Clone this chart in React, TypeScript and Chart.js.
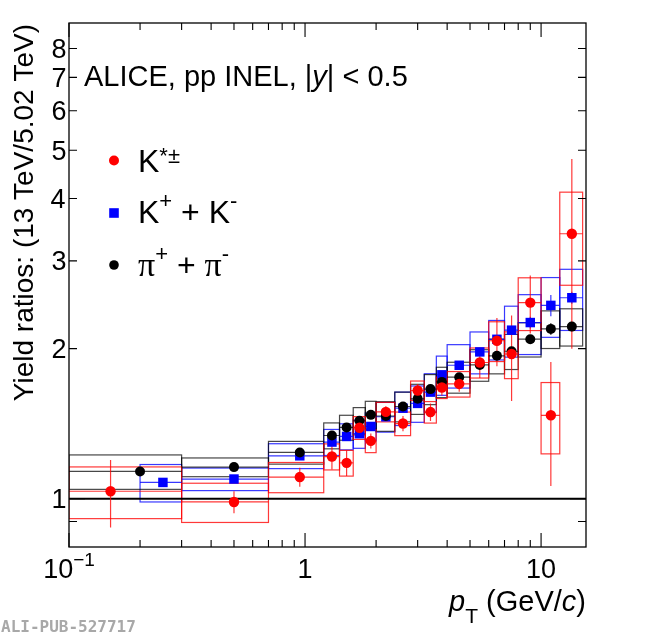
import { useEffect, useRef } from "react"
import { Chart, registerables } from "chart.js"

Chart.register(...registerables)

// K*± (red circles)
const kstarPt = [0.15, 0.5, 0.95, 1.3, 1.5, 1.7, 1.9, 2.2, 2.6, 3.0, 3.4, 3.8, 4.5, 5.5, 6.5, 7.5, 9, 11, 13.5]
const kstarLo = [0, 0.3, 0.7, 1.2, 1.4, 1.6, 1.8, 2.0, 2.4, 2.8, 3.2, 3.6, 4.0, 5, 6, 7, 8, 10, 12]
const kstarHi = [0.3, 0.7, 1.2, 1.4, 1.6, 1.8, 2.0, 2.4, 2.8, 3.2, 3.6, 4.0, 5, 6, 7, 8, 10, 12, 15]
const kstarRatio = [1.035, 0.985, 1.105, 1.215, 1.18, 1.388, 1.306, 1.493, 1.415, 1.648, 1.492, 1.671, 1.699, 1.876, 2.074, 1.951, 2.474, 1.47, 3.4]
const kstarStat = [0.16, 0.05, 0.048, 0.07, 0.07, 0.045, 0.045, 0.04, 0.05, 0.05, 0.06, 0.06, 0.06, 0.13, 0.23, 0.38, 0.33, 0.41, 1.4]
const kstarSys = [0.123, 0.089, 0.077, 0.073, 0.07, 0.073, 0.069, 0.067, 0.077, 0.074, 0.074, 0.083, 0.1, 0.13, 0.19, 0.21, 0.3, 0.24, 0.72]

// K+ + K- (blue squares)
const kaonPt = [0.25, 0.5, 0.95, 1.3, 1.5, 1.7, 1.9, 2.2, 2.6, 3.0, 3.4, 3.8, 4.5, 5.5, 6.5, 7.5, 9, 11, 13.5]
const kaonLo = [0.2, 0.3, 0.7, 1.2, 1.4, 1.6, 1.8, 2.0, 2.4, 2.8, 3.2, 3.6, 4.0, 5, 6, 7, 8, 10, 12]
const kaonHi = [0.3, 0.7, 1.2, 1.4, 1.6, 1.8, 2.0, 2.4, 2.8, 3.2, 3.6, 4.0, 5, 6, 7, 8, 10, 12, 15]
const kaonRatio = [1.078, 1.095, 1.219, 1.299, 1.333, 1.35, 1.396, 1.46, 1.519, 1.553, 1.636, 1.772, 1.852, 1.97, 2.088, 2.178, 2.256, 2.442, 2.53]
const kaonStat = [0.01, 0.01, 0.01, 0.01, 0.01, 0.01, 0.01, 0.01, 0.015, 0.015, 0.015, 0.02, 0.02, 0.03, 0.04, 0.04, 0.06, 0.12, 0.07]
const kaonSys = [0.093, 0.057, 0.07, 0.078, 0.08, 0.088, 0.09, 0.1, 0.117, 0.13, 0.145, 0.16, 0.185, 0.19, 0.19, 0.255, 0.31, 0.335, 0.355]

// pi+ + pi- (black circles)
const pionPt = [0.2, 0.5, 0.95, 1.3, 1.5, 1.7, 1.9, 2.2, 2.6, 3.0, 3.4, 3.8, 4.5, 5.5, 6.5, 7.5, 9, 11, 13.5]
const pionLo = [0.1, 0.3, 0.7, 1.2, 1.4, 1.6, 1.8, 2.0, 2.4, 2.8, 3.2, 3.6, 4.0, 5, 6, 7, 8, 10, 12]
const pionHi = [0.3, 0.7, 1.2, 1.4, 1.6, 1.8, 2.0, 2.4, 2.8, 3.2, 3.6, 4.0, 5, 6, 7, 8, 10, 12, 15]
const pionRatio = [1.134, 1.157, 1.238, 1.339, 1.39, 1.433, 1.473, 1.465, 1.531, 1.586, 1.659, 1.715, 1.753, 1.855, 1.935, 1.976, 2.089, 2.191, 2.214]
const pionStat = [0.005, 0.005, 0.005, 0.005, 0.005, 0.005, 0.005, 0.005, 0.008, 0.008, 0.01, 0.01, 0.01, 0.015, 0.02, 0.02, 0.03, 0.06, 0.05]
const pionSys = [0.09, 0.05, 0.065, 0.08, 0.08, 0.09, 0.095, 0.1, 0.105, 0.11, 0.115, 0.12, 0.125, 0.135, 0.155, 0.16, 0.165, 0.19, 0.19]

// axes
const xRange = [0.1, 15.5]
const yRange = [0.8, 9]
const xTickMajor = [0.1, 1, 10]
const xTickMinor = [0.2, 0.3, 0.4, 0.5, 0.6, 0.7, 0.8, 0.9, 2, 3, 4, 5, 6, 7, 8, 9]
const yTickLabels = [1, 2, 3, 4, 5, 6, 7, 8]
const yTickMinor = [0.9]

const SANS = '"Liberation Sans", Arial, Helvetica, sans-serif'
const SERIF = '"Liberation Serif", "Times New Roman", serif'

type Run = { t: string; size: number; italic?: boolean; dy?: number; serif?: boolean }

function fontOf(r: Run) {
  return `${r.italic ? "italic " : ""}${r.size}px ${r.serif ? SERIF : SANS}`
}

function runsWidth(ctx: CanvasRenderingContext2D, runs: Run[]) {
  let w = 0
  for (const r of runs) {
    ctx.font = fontOf(r)
    w += ctx.measureText(r.t).width
  }
  return w
}

function drawRuns(ctx: CanvasRenderingContext2D, x: number, y: number, runs: Run[]) {
  let cx = x
  for (const r of runs) {
    ctx.font = fontOf(r)
    ctx.fillText(r.t, cx, y + (r.dy || 0))
    cx += ctx.measureText(r.t).width
  }
}

// drawn bottom to top: kaons, pions, K*
const series = [
  { pt: kaonPt, lo: kaonLo, hi: kaonHi, val: kaonRatio, stat: kaonStat, sys: kaonSys, line: "rgba(0,0,255,0.78)" },
  { pt: pionPt, lo: pionLo, hi: pionHi, val: pionRatio, stat: pionStat, sys: pionSys, line: "rgba(0,0,0,0.72)" },
  { pt: kstarPt, lo: kstarLo, hi: kstarHi, val: kstarRatio, stat: kstarStat, sys: kstarSys, line: "rgba(255,0,0,0.78)" },
]

const overlay = {
  id: "overlay",
  beforeDatasetsDraw(chart: any) {
    const { ctx, chartArea: a } = chart
    const xs = chart.scales.x
    const ys = chart.scales.y
    ctx.save()
    ctx.beginPath()
    ctx.rect(a.left, a.top, a.right - a.left, a.bottom - a.top)
    ctx.clip()

    // systematic boxes
    ctx.lineWidth = 1.2
    for (const s of series) {
      ctx.strokeStyle = s.line
      s.val.forEach((v, i) => {
        const x0 = xs.getPixelForValue(Math.max(s.lo[i], xs.min))
        const x1 = xs.getPixelForValue(s.hi[i])
        const yt = ys.getPixelForValue(v + s.sys[i])
        const yb = ys.getPixelForValue(v - s.sys[i])
        ctx.strokeRect(x0, yt, x1 - x0, yb - yt)
      })
    }

    // unity line
    const y1 = ys.getPixelForValue(1)
    ctx.strokeStyle = "#000"
    ctx.lineWidth = 2
    ctx.beginPath()
    ctx.moveTo(a.left, y1)
    ctx.lineTo(a.right, y1)
    ctx.stroke()

    // bin widths and statistical errors
    ctx.lineWidth = 1.2
    for (const s of series) {
      ctx.strokeStyle = s.line
      s.val.forEach((v, i) => {
        const x0 = xs.getPixelForValue(Math.max(s.lo[i], xs.min))
        const x1 = xs.getPixelForValue(s.hi[i])
        const xc = xs.getPixelForValue(s.pt[i])
        const yc = ys.getPixelForValue(v)
        ctx.beginPath()
        ctx.moveTo(x0, yc)
        ctx.lineTo(x1, yc)
        ctx.moveTo(xc, ys.getPixelForValue(v + s.stat[i]))
        ctx.lineTo(xc, ys.getPixelForValue(v - s.stat[i]))
        ctx.stroke()
      })
    }
    ctx.restore()
  },
  afterDraw(chart: any) {
    const { ctx, chartArea: a } = chart
    const xs = chart.scales.x
    const ys = chart.scales.y
    ctx.save()
    ctx.fillStyle = "#000"
    ctx.strokeStyle = "#000"

    // frame
    ctx.lineWidth = 1.3
    ctx.strokeRect(a.left, a.top, a.right - a.left, a.bottom - a.top)

    // x ticks (inward, bottom and top)
    ctx.lineWidth = 1.1
    const xt = (v: number, len: number) => {
      const x = xs.getPixelForValue(v)
      ctx.beginPath()
      ctx.moveTo(x, a.bottom)
      ctx.lineTo(x, a.bottom - len)
      ctx.moveTo(x, a.top)
      ctx.lineTo(x, a.top + len)
      ctx.stroke()
    }
    xTickMajor.forEach((v) => xt(v, 14))
    xTickMinor.forEach((v) => xt(v, 7))

    // y ticks (inward, left and right)
    const yt = (v: number, len: number) => {
      const y = ys.getPixelForValue(v)
      ctx.beginPath()
      ctx.moveTo(a.left, y)
      ctx.lineTo(a.left + len, y)
      ctx.moveTo(a.right, y)
      ctx.lineTo(a.right - len, y)
      ctx.stroke()
    }
    yTickLabels.forEach((v) => yt(v, v === 1 ? 16 : 8))
    yTickMinor.forEach((v) => yt(v, 8))

    // x tick labels
    ctx.textAlign = "left"
    ctx.textBaseline = "alphabetic"
    xTickMajor.forEach((v) => {
      const runs: Run[] =
        v < 1 ? [{ t: "10", size: 27 }, { t: "\u22121", size: 19, dy: -12 }] : [{ t: String(v), size: 27 }]
      const w = runsWidth(ctx, runs)
      drawRuns(ctx, xs.getPixelForValue(v) - w / 2, a.bottom + 31, runs)
    })

    // y tick labels
    ctx.font = `27px ${SANS}`
    yTickLabels.forEach((v) => {
      const m = ctx.measureText(String(v))
      const y = ys.getPixelForValue(v)
      ctx.fillText(String(v), a.left - 3.5 - m.actualBoundingBoxRight, y + (m.actualBoundingBoxAscent - m.actualBoundingBoxDescent) / 2)
    })

    // y axis title
    ctx.save()
    ctx.translate(33, 24)
    ctx.rotate(-Math.PI / 2)
    ctx.textAlign = "right"
    ctx.font = `28px ${SANS}`
    ctx.fillText("Yield ratios: (13 TeV/5.02 TeV)", 0, 0)
    ctx.restore()

    // x axis title
    const xTitle: Run[] = [
      { t: "p", size: 29, italic: true },
      { t: "T", size: 21, dy: 12 },
      { t: " (GeV/", size: 29 },
      { t: "c", size: 29, italic: true },
      { t: ")", size: 29 },
    ]
    drawRuns(ctx, a.right - runsWidth(ctx, xTitle), 611, xTitle)

    // system label
    drawRuns(ctx, 84, 86, [
      { t: "ALICE, pp INEL, |", size: 29 },
      { t: "y", size: 29, italic: true },
      { t: "| < 0.5", size: 29 },
    ])

    // legend
    const lx = 114
    ctx.fillStyle = "#ff0000"
    ctx.beginPath()
    ctx.arc(lx, 160.5, 5, 0, Math.PI * 2)
    ctx.fill()
    ctx.fillStyle = "#0000ff"
    ctx.fillRect(lx - 4.8, 213 - 4.8, 9.6, 9.6)
    ctx.fillStyle = "#000"
    ctx.beginPath()
    ctx.arc(lx, 265, 4.8, 0, Math.PI * 2)
    ctx.fill()

    drawRuns(ctx, 138, 172, [
      { t: "K", size: 32 },
      { t: "*\u00b1", size: 22, dy: -9 },
    ])
    drawRuns(ctx, 138, 223, [
      { t: "K", size: 32 },
      { t: "+", size: 22, dy: -15 },
      { t: " + K", size: 32 },
      { t: "-", size: 22, dy: -15 },
    ])
    drawRuns(ctx, 138, 276, [
      { t: "\u03c0", size: 34, serif: true },
      { t: "+", size: 22, dy: -15 },
      { t: " + ", size: 32 },
      { t: "\u03c0", size: 34, serif: true },
      { t: "-", size: 22, dy: -15 },
    ])

    // publication id
    ctx.fillStyle = "#a8a8a8"
    ctx.font = 'bold 16px "DejaVu Sans Mono", monospace'
    ctx.fillText("ALI-PUB-527717", 1, 632)
    ctx.restore()
  },
}

export default function App() {
  const chartRef = useRef<HTMLCanvasElement>(null)
  const chartInstance = useRef<Chart | null>(null)

  useEffect(() => {
    if (!chartRef.current) return
    const ctx = chartRef.current.getContext("2d")
    if (!ctx) return
    if (chartInstance.current) chartInstance.current.destroy()

    chartInstance.current = new Chart(ctx, {
      type: "scatter",
      data: {
        datasets: [
          {
            label: "K*±",
            data: kstarPt.map((x, i) => ({ x, y: kstarRatio[i] })),
            pointStyle: "circle",
            pointRadius: 5.2,
            backgroundColor: "#ff0000",
            borderWidth: 0,
          },
          {
            label: "π+ + π-",
            data: pionPt.map((x, i) => ({ x, y: pionRatio[i] })),
            pointStyle: "circle",
            pointRadius: 5,
            backgroundColor: "#000000",
            borderWidth: 0,
          },
          {
            label: "K+ + K-",
            data: kaonPt.map((x, i) => ({ x, y: kaonRatio[i] })),
            pointStyle: "rect",
            pointRadius: 6.7,
            backgroundColor: "#0000ff",
            borderWidth: 0,
          },
        ],
      },
      options: {
        responsive: false,
        animation: false,
        events: [],
        layout: { padding: { left: 69, right: 64, top: 23, bottom: 88 } },
        scales: {
          x: { type: "logarithmic", min: xRange[0], max: xRange[1], display: false },
          y: { type: "logarithmic", min: yRange[0], max: yRange[1], display: false },
        },
        plugins: {
          legend: { display: false },
          tooltip: { enabled: false },
        },
      },
      plugins: [overlay],
    })

    return () => {
      if (chartInstance.current) {
        chartInstance.current.destroy()
        chartInstance.current = null
      }
    }
  }, [])

  return (
    <div style={{ position: "absolute", left: 0, top: 0, width: 650, height: 635, background: "#fff" }}>
      <canvas ref={chartRef} width={650} height={635} style={{ width: 650, height: 635 }}></canvas>
    </div>
  )
}
